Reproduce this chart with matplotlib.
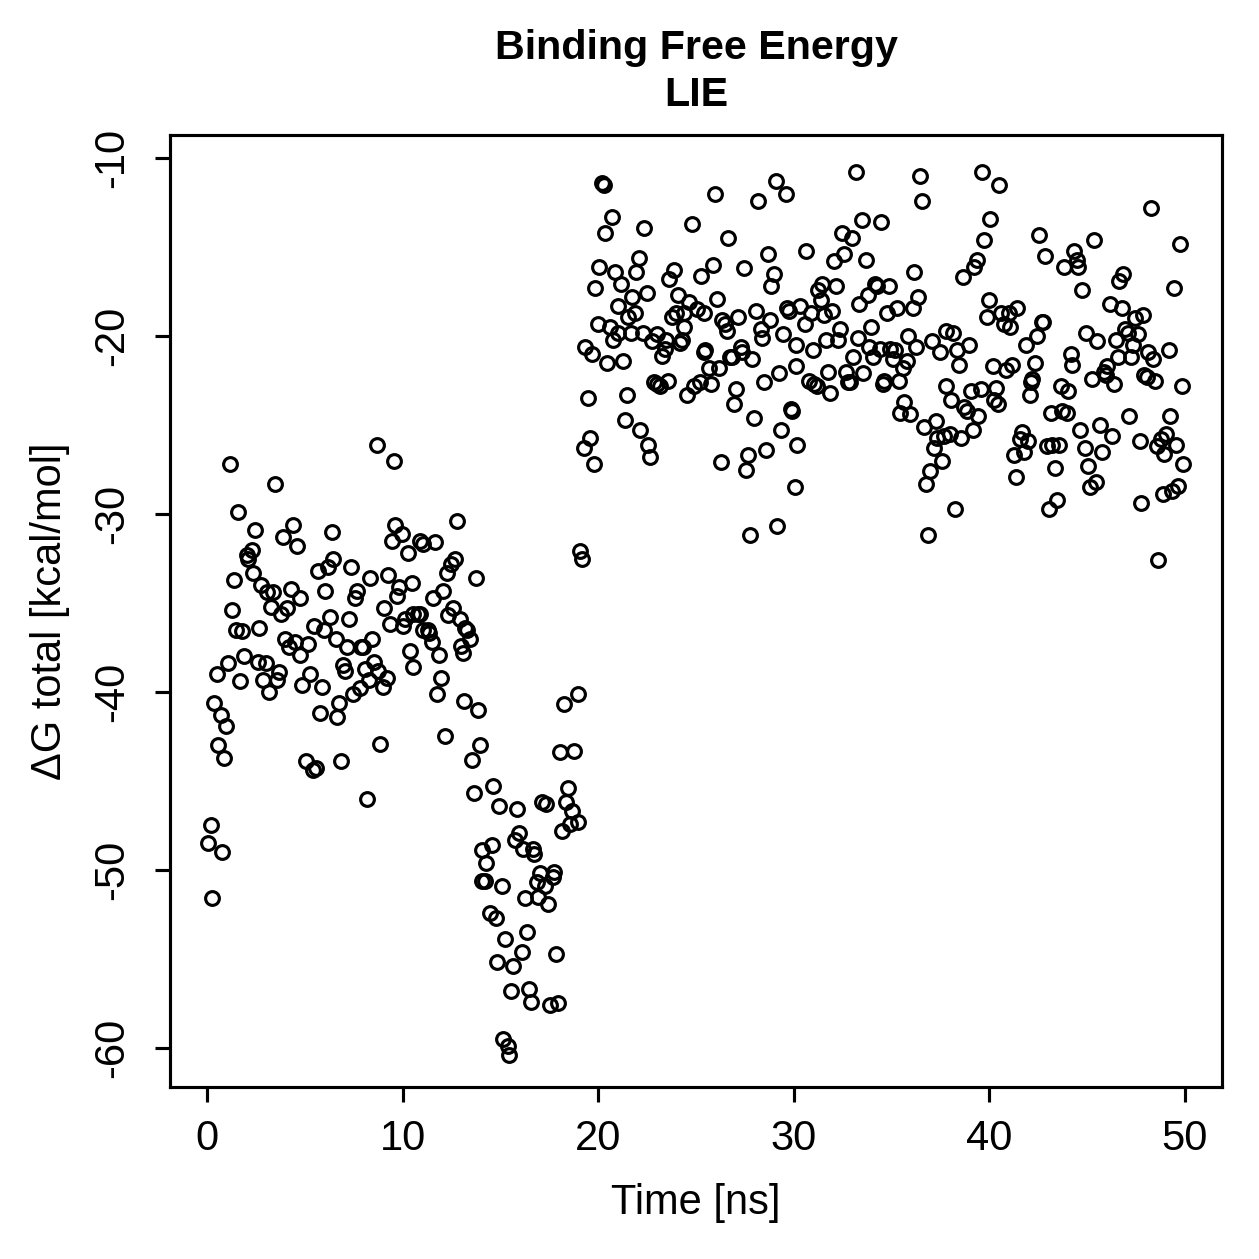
import matplotlib
matplotlib.use("Agg")
import matplotlib.pyplot as plt

# Time [ns] and Delta G total [kcal/mol]
time_0_10 = [0.05, 0.2, 0.26, 0.36, 0.5, 0.56, 0.72, 0.77, 0.87, 0.97, 1.07, 1.18, 1.28, 1.38, 1.48,
             1.59, 1.69, 1.79, 1.89, 2.05, 2.1, 2.3, 2.35, 2.46, 2.61, 2.66, 2.76, 2.87, 3.02, 3.07,
             3.17, 3.28, 3.38, 3.48, 3.58, 3.68, 3.79, 3.89, 3.99, 4.09, 4.2, 4.3, 4.4, 4.5, 4.6,
             4.76, 4.76, 4.86, 5.07, 5.17, 5.27, 5.42, 5.48, 5.58, 5.68, 5.78, 5.89, 5.99, 6.04, 6.19,
             6.29, 6.4, 6.45, 6.6, 6.65, 6.76, 6.86, 6.96, 7.06, 7.16, 7.27, 7.37, 7.47, 7.57, 7.68,
             7.83, 7.88, 7.98, 8.09, 8.19, 8.29, 8.34, 8.44, 8.55, 8.7, 8.75, 8.85, 9.0, 9.06, 9.21,
             9.26, 9.37, 9.47, 9.57, 9.62, 9.72, 9.83]
dg_0_10 = [-48.5, -47.5, -51.6, -40.6, -39.0, -43.0, -41.3, -49.0, -43.7, -41.9, -38.4, -27.2, -35.4, -33.7, -36.5,
           -29.9, -39.4, -36.6, -38.0, -32.3, -32.5, -32.0, -33.3, -30.9, -38.3, -36.4, -34.0, -39.3, -38.4, -34.4,
           -40.0, -35.2, -34.4, -28.3, -39.3, -38.9, -35.6, -31.3, -37.0, -35.3, -37.5, -34.2, -30.6, -37.2, -31.8,
           -34.7, -37.9, -39.6, -43.9, -37.3, -39.0, -44.4, -36.3, -44.3, -33.2, -41.2, -39.7, -36.5, -34.3, -33.0,
           -35.8, -31.0, -32.5, -37.0, -41.4, -40.6, -43.9, -38.5, -38.8, -37.5, -35.9, -33.0, -40.1, -34.7, -34.3,
           -39.8, -37.5, -37.5, -38.7, -46.0, -39.3, -33.6, -37.0, -38.3, -26.1, -38.8, -42.9, -39.7, -35.3, -39.2,
           -33.4, -36.2, -31.5, -27.0, -30.6, -34.6, -34.1]

time_10_20 = [9.98, 10.29, 10.9, 11.05, 11.67, 12.79, 12.69, 12.49, 12.28, 13.77, 10.49, 11.57, 12.08, 10.13, 10.03,
              10.54, 10.8, 10.9, 11.05, 11.31, 11.36, 11.51, 12.33, 12.59, 12.95, 13.2, 13.3, 13.46, 13.0, 13.1,
              10.39, 10.54, 11.87, 11.98, 11.77, 13.15, 13.87, 12.18, 13.97, 13.56, 13.66, 14.64, 14.94, 15.87, 17.14,
              17.35, 18.27, 18.99, 18.07, 18.78, 18.47, 18.37, 18.68, 18.58, 18.94, 18.17, 19.09, 19.19, 15.97, 15.76,
              16.17, 16.68, 16.73, 14.59, 14.07, 14.28, 14.23, 14.07, 15.1, 17.04, 17.76, 17.71, 16.89, 17.3, 16.27,
              16.94, 17.45, 14.48, 14.79, 16.38, 15.25, 16.12, 14.84, 15.66, 17.86, 15.56, 16.48, 16.58, 17.55, 17.96,
              15.15, 15.4, 15.46]
dg_10_20 = [-31.1, -32.2, -31.5, -31.7, -31.6, -30.4, -32.5, -32.8, -33.3, -33.6, -33.9, -34.7, -34.3, -35.9, -36.3,
            -35.6, -35.6, -35.6, -36.5, -36.5, -36.7, -37.2, -35.7, -35.3, -35.9, -36.4, -36.5, -37.0, -37.4, -37.8,
            -37.7, -38.6, -37.9, -39.2, -40.1, -40.5, -41.0, -42.5, -43.0, -43.8, -45.7, -45.3, -46.4, -46.6, -46.2,
            -46.3, -40.7, -40.1, -43.4, -43.3, -45.4, -46.2, -46.7, -47.4, -47.3, -47.8, -32.1, -32.5, -47.9, -48.3,
            -48.8, -48.8, -49.1, -48.6, -48.9, -49.6, -50.6, -50.6, -50.9, -50.2, -50.1, -50.4, -50.7, -50.9, -51.6,
            -51.5, -51.9, -52.4, -52.7, -53.5, -53.9, -54.6, -55.2, -55.4, -54.7, -56.8, -56.7, -57.4, -57.6, -57.5,
            -59.5, -59.9, -60.4]

time_20_30 = [20.19, 20.27, 25.95, 29.07, 29.58, 28.15, 20.68, 20.37, 22.36, 24.77, 26.66, 28.66, 22.06, 20.06, 20.88,
              21.95, 23.85, 23.64, 25.88, 25.27, 27.43, 28.97, 28.86, 19.86, 21.17, 22.47, 21.75, 21.03, 21.53, 21.9,
              24.07, 24.63, 26.05, 25.06, 25.4, 24.38, 24.0, 23.78, 24.38, 28.06, 29.67, 29.75, 30.3, 26.34, 26.47,
              26.56, 27.16, 28.76, 28.3, 28.35, 19.98, 20.59, 21.02, 20.76, 21.68, 22.3, 22.98, 22.76, 23.49, 23.4,
              23.27, 24.26, 24.16, 29.46, 30.1, 19.33, 19.67, 20.46, 21.25, 25.42, 25.45, 26.72, 26.82, 27.31, 27.36,
              27.88, 25.66, 26.17, 27.06, 26.94, 28.48, 29.27, 22.83, 23.01, 23.18, 23.58, 24.55, 24.89, 25.23, 25.79,
              19.48, 21.48, 27.96, 21.36, 22.16, 22.55, 22.67, 19.57, 19.26, 19.77, 29.36, 28.57, 27.67, 27.57, 26.27,
              29.84, 29.92, 30.18, 30.06, 29.15, 27.75, 30.1]
dg_20_30 = [-11.4, -11.5, -12.0, -11.3, -12.0, -12.4, -13.3, -14.2, -13.9, -13.7, -14.5, -15.4, -15.6, -16.1, -16.4,
            -16.4, -16.3, -16.8, -16.0, -16.6, -16.2, -16.5, -17.2, -17.3, -17.1, -17.6, -17.8, -18.3, -18.9, -18.7,
            -17.7, -18.1, -17.9, -18.5, -18.7, -18.7, -18.7, -18.9, -19.5, -18.6, -18.4, -18.6, -18.3, -19.1, -19.3,
            -19.7, -18.9, -19.1, -19.6, -20.1, -19.3, -19.5, -19.8, -20.2, -19.8, -19.8, -19.9, -20.3, -20.2, -20.7,
            -21.1, -20.2, -20.4, -19.9, -20.5, -20.6, -21.0, -21.5, -21.4, -20.9, -20.8, -21.2, -21.2, -20.6, -20.9,
            -21.3, -21.8, -21.8, -23.0, -23.8, -22.6, -22.1, -22.6, -22.7, -22.8, -22.5, -23.3, -22.8, -22.6, -22.7,
            -23.5, -23.3, -24.6, -24.7, -25.3, -26.1, -26.8, -25.7, -26.3, -27.2, -25.3, -26.4, -26.7, -27.5, -27.1,
            -24.1, -24.2, -26.1, -28.5, -30.7, -31.2, -21.7]

time_30_40 = [33.16, 36.45, 36.56, 39.65, 40.5, 40.04, 39.75, 33.47, 34.44, 32.45, 32.96, 30.65, 32.57, 32.05, 33.67,
              36.15, 39.39, 39.22, 38.65, 31.46, 31.25, 32.17, 31.37, 30.9, 31.54, 31.97, 30.55, 34.15, 34.27, 34.87,
              33.8, 33.35, 34.78, 35.26, 36.09, 36.37, 33.96, 32.36, 32.27, 31.66, 30.98, 33.27, 33.84, 34.39, 34.05,
              33.05, 34.92, 35.17, 35.07, 35.57, 35.77, 35.86, 36.27, 37.09, 37.48, 37.8, 38.14, 38.37, 38.96, 38.47,
              31.77, 30.78, 31.03, 31.17, 31.85, 32.65, 32.79, 32.87, 33.56, 34.62, 34.56, 35.38, 35.64, 35.43, 35.94,
              37.77, 38.06, 39.05, 39.56, 38.71, 38.84, 39.44, 40.33, 40.24, 40.45, 36.66, 37.26, 37.34, 37.68, 37.99,
              38.54, 39.17, 37.17, 37.56, 36.97, 36.75, 38.25, 36.86]
dg_30_40 = [-10.8, -11.0, -12.4, -10.8, -11.5, -13.4, -14.6, -13.5, -13.6, -14.2, -14.5, -15.2, -15.4, -15.8, -15.7,
            -16.4, -15.7, -16.1, -16.7, -17.1, -17.4, -17.2, -18.0, -18.7, -18.8, -18.6, -19.3, -17.1, -17.2, -17.2,
            -17.7, -18.2, -18.7, -18.4, -18.4, -17.8, -19.5, -19.6, -20.2, -20.2, -20.8, -20.1, -20.6, -20.7, -21.2,
            -21.2, -20.7, -20.8, -21.3, -21.8, -21.4, -20.0, -20.6, -20.3, -20.9, -19.7, -19.8, -20.8, -20.5, -21.6,
            -22.0, -22.5, -22.7, -22.8, -23.2, -22.0, -22.6, -22.6, -22.1, -22.5, -22.7, -22.5, -23.7, -24.3, -24.4,
            -22.8, -23.6, -23.1, -23.0, -24.0, -24.2, -24.5, -22.9, -23.6, -23.8, -25.1, -24.8, -25.7, -25.6, -25.5,
            -25.7, -25.3, -26.3, -27.0, -27.6, -28.3, -29.7, -31.2]

time_40_50 = [48.26, 42.55, 45.36, 49.74, 42.85, 44.34, 44.46, 44.56, 43.82, 46.86, 46.64, 44.73, 49.45, 39.98, 39.87,
              40.58, 41.01, 41.44, 40.75, 41.06, 42.68, 42.75, 42.46, 41.86, 44.97, 45.53, 46.16, 46.78, 47.44, 47.87,
              46.95, 47.07, 47.58, 46.47, 47.36, 46.56, 47.27, 48.14, 48.38, 49.17, 44.17, 44.25, 46.04, 45.87, 45.96,
              45.24, 46.38, 47.92, 48.06, 48.46, 49.85, 42.34, 42.2, 42.12, 42.07, 40.19, 40.87, 41.18, 43.65, 44.03,
              43.14, 43.74, 43.96, 47.16, 49.25, 44.64, 45.67, 46.25, 41.66, 41.56, 41.98, 41.78, 41.27, 41.35, 42.94,
              43.23, 43.57, 44.88, 45.05, 45.75, 47.69, 48.57, 48.77, 49.06, 48.94, 49.57, 49.93, 43.35, 45.16, 45.45,
              43.48, 43.06, 47.75, 48.86, 49.33, 49.66, 48.65]
dg_40_50 = [-12.8, -14.3, -14.6, -14.8, -15.5, -15.2, -15.7, -16.1, -16.1, -16.5, -16.9, -17.4, -17.3, -18.0, -18.9,
            -18.7, -18.7, -18.4, -19.3, -19.5, -19.2, -19.2, -20.0, -20.5, -19.8, -20.3, -18.2, -18.4, -19.0, -18.8,
            -19.6, -19.8, -19.9, -20.2, -20.5, -21.2, -21.2, -20.9, -21.3, -20.8, -21.0, -21.6, -21.7, -22.0, -22.2,
            -22.4, -22.7, -22.2, -22.3, -22.5, -22.8, -21.5, -22.4, -22.6, -23.3, -21.7, -21.9, -21.6, -22.8, -23.1,
            -24.3, -24.2, -24.3, -24.5, -24.5, -25.3, -25.0, -25.6, -25.4, -25.8, -25.9, -26.5, -26.7, -27.9, -26.2,
            -26.1, -26.1, -26.3, -27.3, -26.5, -25.9, -26.2, -25.8, -25.5, -26.6, -26.1, -27.2, -27.4, -28.5, -28.2,
            -29.2, -29.7, -29.4, -28.9, -28.7, -28.4, -32.6]

time_ns = time_0_10 + time_10_20 + time_20_30 + time_30_40 + time_40_50
dg_total = dg_0_10 + dg_10_20 + dg_20_30 + dg_30_40 + dg_40_50

x_ticks = [0, 10, 20, 30, 40, 50]
y_ticks = [-60, -50, -40, -30, -20, -10]

plt.rcParams['font.family'] = ['Liberation Sans', 'DejaVu Sans']
plt.rcParams['axes.unicode_minus'] = False

W = 1259 / 300
fig = plt.figure(figsize=(W, W), dpi=300)
ax = fig.add_axes([170 / 1259, 1 - 1087 / 1259, (1222 - 170) / 1259, (1087 - 135) / 1259])

# open circles like R's pch = 1
ax.plot(time_ns, dg_total, linestyle='none', marker='o', markersize=3.3,
        markerfacecolor='none', markeredgecolor='black', markeredgewidth=0.75)

ax.set_xlim(-1.9, 51.9)
ax.set_ylim(-62.2, -8.7)
ax.set_xticks(x_ticks)
ax.set_yticks(y_ticks)
for sp in ax.spines.values():
    sp.set_linewidth(0.75)
ax.tick_params(axis='both', direction='out', length=3.6, width=0.75, labelsize=10)
ax.tick_params(axis='x', pad=4)
ax.tick_params(axis='y', pad=5.5)
for lab in ax.get_yticklabels():
    lab.set_rotation(90)
    lab.set_va('center')

ax.set_xlabel('Time [ns]', fontsize=10, va='center')
ax.xaxis.set_label_coords(0.5, (1087 - 1203) / 952)
ax.set_ylabel('\u0394G total [kcal/mol]', fontsize=10, va='center')
ax.yaxis.set_label_coords((50 - 170) / 1052, 0.5)

cx = (170 + 1222) / 2 / 1259
fig.text(cx, 1 - 59 / 1259, 'Binding Free Energy', ha='center', va='baseline',
         fontsize=9.9, fontweight='bold')
fig.text(cx, 1 - 106 / 1259, 'LIE', ha='center', va='baseline',
         fontsize=9.9, fontweight='bold')

fig.savefig('out.png', dpi=300)
